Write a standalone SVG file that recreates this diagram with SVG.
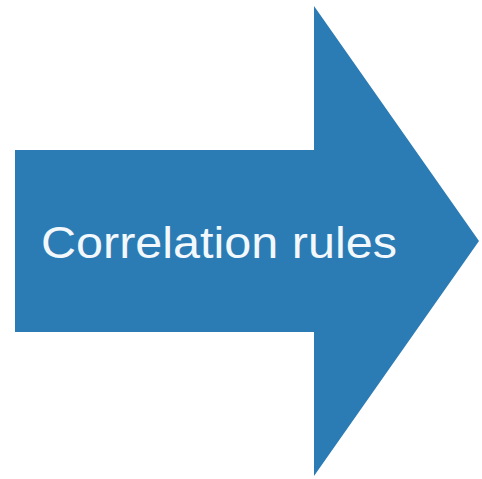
<svg xmlns="http://www.w3.org/2000/svg" width="482" height="479" viewBox="0 0 482 479">
<style>
.arrow{fill:#2b7cb5}
.label{font-family:"Liberation Sans",Arial,sans-serif;font-size:45px;fill:#f2f8fc}
</style>
<rect width="482" height="479" fill="#ffffff"/>
<g id="arrow">
<polygon class="arrow" points="15,150 314,150 314,6 479,241 314,476 314,332 15,332"/>
<text class="label" x="41" y="258" textLength="356" lengthAdjust="spacingAndGlyphs">Correlation rules</text>
</g>
</svg>
